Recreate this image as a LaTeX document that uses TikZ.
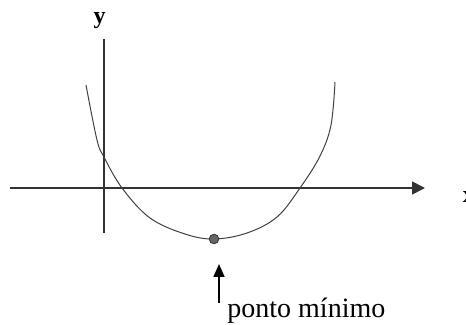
\documentclass[tikz,border=0pt]{standalone}
\usepackage{fontspec}
\setmainfont{Liberation Serif}
\usetikzlibrary{arrows.meta}
\tikzset{
  axis/.style={line width=0.8pt, draw=black!80},
  axisarrow/.style={axis, -{Triangle[length=6.5pt, width=6.5pt]}},
  curve/.style={line width=0.5pt, draw=black!75},
  minpt/.style={circle, fill=black!60, draw=black!80, line width=0.4pt,
    minimum size=4.8pt, inner sep=0pt},
  pointer/.style={line width=0.8pt, -{Triangle[length=6.5pt, width=5.5pt]}},
  axlabel/.style={font=\fontsize{12}{14}\selectfont\bfseries, inner sep=0pt},
  note/.style={font=\fontsize{14}{16}\selectfont, inner sep=0pt},
}
\begin{document}
\begin{tikzpicture}[x=0.5pt,y=-0.5pt]
\useasboundingbox (0,0) rectangle (466,325);
\clip (0,0) rectangle (466,325);
% axes
\coordinate (xstart) at (10,188);
\coordinate (xend) at (425,188);
\coordinate (ytop) at (104,39);
\coordinate (ybot) at (104,233);
\draw[axisarrow] (xstart) -- (xend);
\draw[axis] (ybot) -- (ytop);
\node[axlabel, anchor=base] (ylab) at (99.5,24) {y};
\node[axlabel, anchor=base west] (xlab) at (462.5,203) {x};
% the curve
\draw[curve] plot[smooth, tension=0.6] coordinates {
  (86,85) (97,140) (104,157) (122,188) (150,218) (185,234) (214,239)
  (247,233) (277,217) (300,188) (320,156) (331,125) (335,82)};
\node[minpt] (min) at (214,239) {};
% label
\coordinate (tail) at (219,303);
\coordinate (tip) at (219,264);
\draw[pointer] (tail) -- (tip);
\node[note, anchor=base west] (lab) at (227,318) {ponto mínimo};
\end{tikzpicture}
\end{document}
